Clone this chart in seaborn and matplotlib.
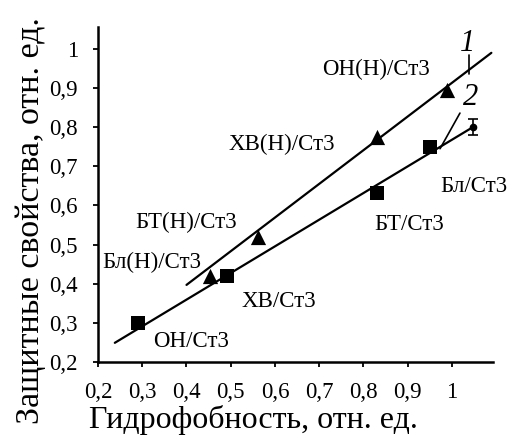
import matplotlib
matplotlib.use("Agg")
import matplotlib.pyplot as plt
import seaborn as sns
import pandas as pd

sns.set_theme(style="ticks")
plt.rcParams["font.family"] = ["Liberation Serif", "DejaVu Serif"]
plt.rcParams["text.color"] = "black"
plt.rcParams["axes.labelcolor"] = "black"

# Coatings with the (Н) layer — series 1 (triangles)
coat_h = ["Бл(Н)/Ст3", "БТ(Н)/Ст3", "ХВ(Н)/Ст3", "ОН(Н)/Ст3"]
hydro_h = [0.453, 0.561, 0.830, 0.988]
protect_h = [0.420, 0.520, 0.775, 0.896]

# Coatings without the layer — series 2 (squares)
coat_s = ["ОН/Ст3", "ХВ/Ст3", "БТ/Ст3", "Бл/Ст3"]
hydro_s = [0.290, 0.491, 0.830, 0.950]
protect_s = [0.300, 0.420, 0.632, 0.750]

# Typical measurement point with its error
err_x = [1.047]
err_y = [0.800]
err_dy = [0.020]

# Trend lines 1 and 2 (end points)
trend1_x = [0.400, 1.089]
trend1_y = [0.397, 0.990]
trend2_x = [0.238, 1.047]
trend2_y = [0.249, 0.800]

# Label positions (centre of text)
label_h_pos = [(0.322, 0.455), (0.400, 0.557), (0.616, 0.757), (0.828, 0.948)]
label_s_pos = [(0.411, 0.253), (0.608, 0.355), (0.903, 0.552), (1.049, 0.649)]

x_ticks = [0.2, 0.3, 0.4, 0.5, 0.6, 0.7, 0.8, 0.9, 1.0]
y_ticks = [0.2, 0.3, 0.4, 0.5, 0.6, 0.7, 0.8, 0.9, 1.0]

points = pd.DataFrame({
    "x": hydro_h + hydro_s,
    "y": protect_h + protect_s,
    "series": ["1"] * len(hydro_h) + ["2"] * len(hydro_s),
})
lines = pd.DataFrame({
    "x": trend1_x + trend2_x,
    "y": trend1_y + trend2_y,
    "series": ["1", "1", "2", "2"],
})

fig = plt.figure(figsize=(5.11, 4.38), dpi=100)
ax = fig.add_axes([98 / 511, 76 / 438, 395 / 511, 335 / 438])

sns.lineplot(data=lines, x="x", y="y", units="series", estimator=None,
             color="black", lw=1.6, ax=ax, legend=False)
sns.scatterplot(data=points[points.series == "1"], x="x", y="y", marker="^",
                s=120, color="black", linewidth=0, ax=ax, legend=False, zorder=3)
sns.scatterplot(data=points[points.series == "2"], x="x", y="y", marker="s",
                s=115, color="black", linewidth=0, ax=ax, legend=False, zorder=3)
ax.errorbar(err_x, err_y, yerr=err_dy, fmt="o", ms=4.5, color="black",
            elinewidth=1.2, capsize=3.5, capthick=1.2, zorder=3)

fs = 16.5
for name, (lx, ly) in zip(coat_h, label_h_pos):
    ax.text(lx, ly, name, ha="center", va="center", fontsize=fs, color="black")
for name, (lx, ly) in zip(coat_s, label_s_pos):
    ax.text(lx, ly, name, ha="center", va="center", fontsize=fs, color="black")

# Curve numbers with leader strokes
ax.text(1.036, 1.013, "1", style="italic", fontsize=22, ha="center", va="center",
        color="black")
ax.plot([1.038, 1.038], [0.985, 0.935], color="black", lw=1.2)
ax.text(1.041, 0.875, "2", style="italic", fontsize=22, ha="center", va="center",
        color="black")
ax.plot([1.018, 0.973], [0.836, 0.745], color="black", lw=1.2)

ax.set_xlim(0.2, 1.0927)
ax.set_ylim(0.2, 1.056)
ax.set_xticks(x_ticks)
ax.set_yticks(y_ticks)
fmt = lambda v: ("%g" % v).replace(".", ",")
ax.set_xticklabels([fmt(v) for v in x_ticks])
ax.set_yticklabels([fmt(v) for v in y_ticks])
ax.tick_params(axis="both", labelsize=16.5, colors="black", width=1.3, length=3.5)
ax.tick_params(axis="x", pad=11)
ax.tick_params(axis="y", pad=11)

for side in ("top", "right"):
    ax.spines[side].set_visible(False)
for side in ("left", "bottom"):
    ax.spines[side].set_color("black")
    ax.spines[side].set_linewidth(1.8)

ax.set_xlabel("Гидрофобность, отн. ед.", fontsize=23, color="black")
ax.set_ylabel("Защитные свойства, отн. ед.", fontsize=24.5, color="black")
ax.xaxis.label.set_va("center")
ax.yaxis.label.set_va("center")
ax.xaxis.set_label_coords((253.5 - 98) / 395, (362 - 420) / 335)
ax.yaxis.set_label_coords((31 - 98) / 395, (362 - 221) / 335)

fig.savefig("out.png", dpi=100)
